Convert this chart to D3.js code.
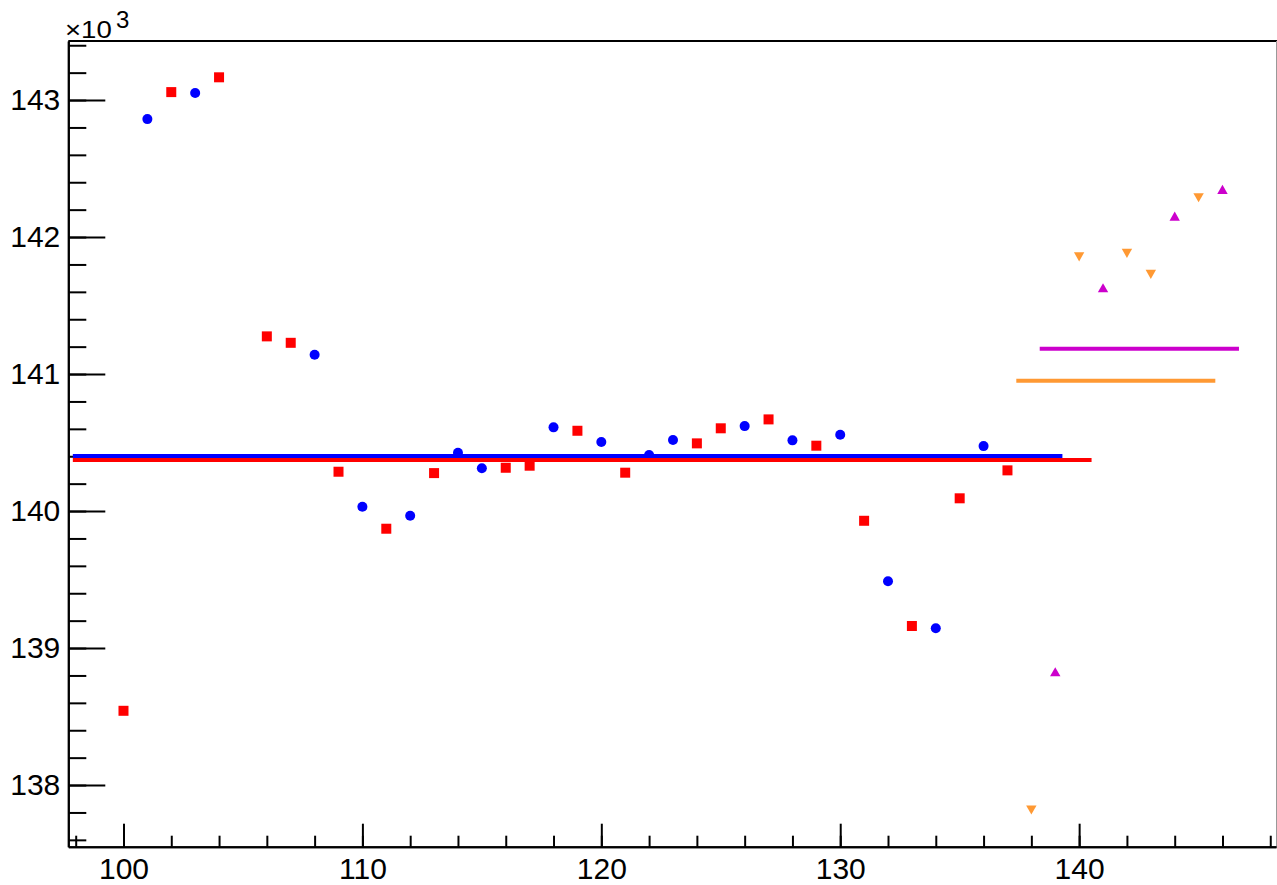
<!DOCTYPE html>
<html>
<head>
<meta charset="utf-8">
<script src="https://cdn.jsdelivr.net/npm/d3@7"></script>
<style>
  html, body { margin: 0; padding: 0; background: #fff; }
  svg { display: block; }
  text { font-family: "Liberation Sans", Arial, Helvetica, sans-serif; fill: #000; }
</style>
</head>
<body>
<svg id="chart" width="1277" height="885"></svg>
<script>
// ---- data (values in units of 10^3) ----
const blueX = [101, 103, 108, 110, 112, 114, 115, 118, 120, 122, 123, 126, 128, 130, 132, 134, 136];
const blueY = [142.861, 143.051, 141.141, 140.031, 139.966, 140.426, 140.312, 140.611, 140.504, 140.409, 140.518, 140.620, 140.516, 140.557, 139.487, 139.144, 140.474];

const redX = [100, 102, 104, 106, 107, 109, 111, 113, 116, 117, 119, 121, 124, 125, 127, 129, 131, 133, 135, 137];
const redY = [138.542, 143.058, 143.166, 141.275, 141.228, 140.287, 139.871, 140.277, 140.316, 140.331, 140.586, 140.280, 140.494, 140.604, 140.669, 140.477, 139.929, 139.161, 140.093, 140.297];

const orangeX = [138, 140, 142, 143, 145];
const orangeY = [137.818, 141.856, 141.881, 141.728, 142.287];

const magentaX = [139, 141, 144, 146];
const magentaY = [138.827, 141.630, 142.153, 142.348];

// horizontal mean lines: [xStart, xEnd, value]
const blueMean = [97.88, 139.30, 140.401];
const redMean = [97.88, 140.52, 140.372];
const orangeMean = [137.37, 145.70, 140.951];
const magentaMean = [138.35, 146.69, 141.185];

const xMajorTicks = [100, 110, 120, 130, 140];
const xMinorTicks = d3.range(98, 149, 2);
const yMajorTicks = [138, 139, 140, 141, 142, 143];
const yMinorTicks = d3.range(137.6, 143.45, 0.2).map(v => +v.toFixed(1));
const xDomain = [97.69, 148.24];
const yDomain = [137.550, 143.431];

// ---- layout ----
const L = 68.3, R = 1276, T = 41, B = 846.7;
const svg = d3.select("#chart");
const x = d3.scaleLinear().domain(xDomain).range([L, R]);
const y = d3.scaleLinear().domain(yDomain).range([B, T]);

const colors = { blue: "#0000ff", red: "#ff0000", orange: "#ff9933", magenta: "#cc00cc" };

// frame top / right
svg.append("line").attr("x1", L).attr("x2", R + 1).attr("y1", T).attr("y2", T)
  .attr("stroke", "#000").attr("stroke-width", 2);
svg.append("line").attr("x1", R + 0.5).attr("x2", R + 0.5).attr("y1", T).attr("y2", B)
  .attr("stroke", "#999").attr("stroke-width", 1);

// axes
const fontSize = 30;
const xMinorAxis = d3.axisBottom(x).tickValues(xMinorTicks).tickSizeInner(-11).tickSizeOuter(0).tickFormat("");
const xMajorAxis = d3.axisBottom(x).tickValues(xMajorTicks).tickSizeInner(-23).tickSizeOuter(0).tickPadding(11).tickFormat(d3.format("d"));
const yMinorAxis = d3.axisLeft(y).tickValues(yMinorTicks).tickSizeInner(-18).tickSizeOuter(0).tickFormat("");
const yMajorAxis = d3.axisLeft(y).tickValues(yMajorTicks).tickSizeInner(-37).tickSizeOuter(0).tickPadding(8).tickFormat(d3.format("d"));

function styleAxis(g) {
  g.selectAll("path.domain").attr("stroke", "#000").attr("stroke-width", 2);
  g.selectAll(".tick line").attr("stroke", "#000").attr("stroke-width", 2);
  g.selectAll(".tick text").attr("font-size", fontSize).attr("font-family", "'Liberation Sans', Arial, sans-serif").attr("fill", "#000");
}
svg.append("g").attr("transform", `translate(0,${B})`).call(xMinorAxis).call(styleAxis);
svg.append("g").attr("transform", `translate(0,${B})`).call(xMajorAxis).call(styleAxis);
svg.append("g").attr("transform", `translate(${L},0)`).call(yMinorAxis).call(styleAxis);
svg.append("g").attr("transform", `translate(${L},0)`).call(yMajorAxis).call(styleAxis);

// exponent label (horizontally stretched like the original)
svg.append("text").attr("transform", "translate(65,37.5) scale(1.2,1)")
  .attr("font-size", 23).style("font-size", "23px")
  .text("\u00d710");
svg.append("text").attr("x", 116).attr("y", 28)
  .attr("font-size", 24).style("font-size", "24px")
  .text("3");

// markers
const plot = svg.append("g");
function zip(xs, ys) { return xs.map((v, i) => ({ x: v, y: ys[i] })); }

plot.selectAll("circle.blue").data(zip(blueX, blueY)).join("circle")
  .attr("class", "blue").attr("cx", d => x(d.x)).attr("cy", d => y(d.y)).attr("r", 5)
  .attr("fill", colors.blue);

plot.selectAll("rect.red").data(zip(redX, redY)).join("rect")
  .attr("class", "red").attr("x", d => x(d.x) - 5).attr("y", d => y(d.y) - 5)
  .attr("width", 10).attr("height", 10).attr("fill", colors.red);

const triDown = "M-5.2,-4.6 L5.2,-4.6 L0,4.6 Z";
const triUp = "M-5.2,4.6 L5.2,4.6 L0,-4.6 Z";
plot.selectAll("path.orange").data(zip(orangeX, orangeY)).join("path")
  .attr("class", "orange").attr("d", triDown)
  .attr("transform", d => `translate(${x(d.x)},${y(d.y)})`).attr("fill", colors.orange);
plot.selectAll("path.magenta").data(zip(magentaX, magentaY)).join("path")
  .attr("class", "magenta").attr("d", triUp)
  .attr("transform", d => `translate(${x(d.x)},${y(d.y)})`).attr("fill", colors.magenta);

// mean lines
const means = [
  { m: blueMean, c: colors.blue },
  { m: redMean, c: colors.red },
  { m: orangeMean, c: colors.orange },
  { m: magentaMean, c: colors.magenta }
];
plot.selectAll("line.mean").data(means).join("line")
  .attr("class", "mean")
  .attr("x1", d => x(d.m[0])).attr("x2", d => x(d.m[1]))
  .attr("y1", d => y(d.m[2])).attr("y2", d => y(d.m[2]))
  .attr("stroke", d => d.c).attr("stroke-width", 4);
</script>
</body>
</html>
